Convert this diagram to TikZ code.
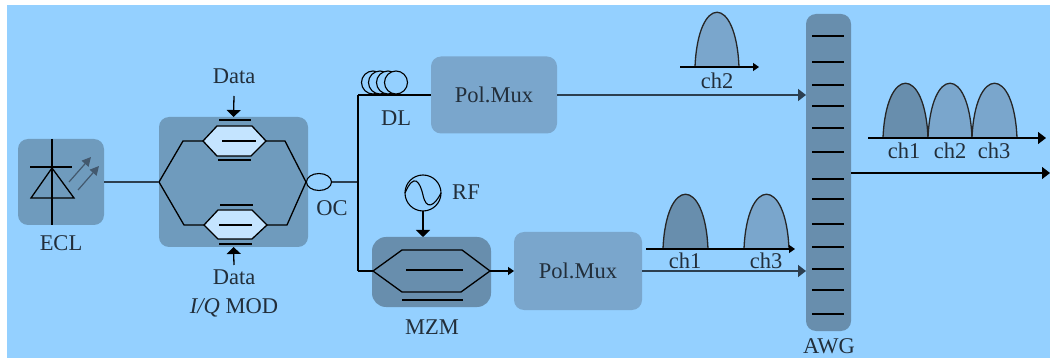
\documentclass[tikz,border=0pt]{standalone}
\usepackage{fontspec}
\setmainfont{Liberation Serif}
\usetikzlibrary{positioning}
\usetikzlibrary{arrows.meta}
\usetikzlibrary{shapes.geometric}
\definecolor{bgblue}{HTML}{94D0FF}
\definecolor{boxblue}{HTML}{6F9BBD}
\definecolor{darkblue}{HTML}{688EAD}
\definecolor{muxblue}{HTML}{7AA6CC}
\definecolor{hexblue}{HTML}{C4E4FF}
\definecolor{inkblue}{HTML}{222E3A}
\definecolor{wireblue}{HTML}{2C3F50}
\definecolor{rayblue}{HTML}{43596E}
\newcommand{\pulse}[4]{\draw[pulseline,fill=#4] (#1,#3) .. controls ({#1+3},{#3-73}) and ({#2-3},{#3-73}) .. (#2,#3);}

\begin{document}
\begin{tikzpicture}[x=1pt,y=-1pt,line width=1.3pt,font=\fontsize{22.5}{25}\selectfont,text=inkblue]
\tikzset{block/.style={rectangle,inner sep=0pt,outer sep=0pt,minimum width=#1,rounded corners=10pt}}
\tikzset{caption/.style={inner sep=0pt}}
\tikzset{wire/.style={draw=wireblue,line width=1.6pt}}
\tikzset{pulseline/.style={draw=black!85,line width=1.3pt}}
\tikzset{hex/.style={draw=black,line width=1.3pt,line join=miter}}
\tikzset{bar/.style={draw=black,line width=1.3pt}}
\tikzset{bigtip/.style={-{Triangle[length=8pt,width=12pt]}}}
\tikzset{widetip/.style={-{Triangle[length=7pt,width=14pt]}}}
\tikzset{axistip/.style={-{Triangle[length=6pt,width=8pt]}}}
\useasboundingbox (0,0) rectangle (1050,358);
\fill[bgblue] (7,5) rectangle (1050,358);
% blocks
\node[block=86pt,fill=boxblue,minimum height=86pt] (ecl) at (61,182) {};
\node[block=149pt,fill=boxblue,minimum height=130pt] (iq) at (233.5,182) {};
\node[block=119pt,fill=darkblue,minimum height=70pt,rounded corners=14pt] (mzm) at (431.5,272) {};
\node[block=126pt,fill=muxblue,minimum height=77pt] (mux1) at (494,95) {Pol.Mux};
\node[block=128pt,fill=muxblue,minimum height=78pt] (mux2) at (578,271) {Pol.Mux};
\node[block=45pt,fill=darkblue,minimum height=317pt] (awg) at (828.5,172.5) {};
% labels
\node[caption,below = 10pt of ecl] (ecltext) {ECL};
\node[caption] (data1) at (234,76) {Data};
\node[caption] (data2) at (234,277) {Data};
\node[caption] (iqtext) at (234,308) {\textit{I/Q} MOD};
\node[caption] (octext) at (332,208) {OC};
\node[caption] (dltext) at (396,118) {DL};
\node[caption] (rftext) at (466,192) {RF};
\node[caption] (mzmtext) at (432,327) {MZM};
\node[caption] (awgtext) at (829,346) {AWG};
% laser
\coordinate (apex) at (52,168);
\draw[bar] (apex) -- (31,198) -- (74,198) -- cycle;
\draw[bar] (30,167) -- (72,167);
\draw[bar] (ecl.north -| apex) -- (ecl.south -| apex);
\draw[-{Triangle[length=9pt,width=9pt]},draw=rayblue,fill=rayblue,line width=1.2pt] (69,182) -- (91,157);
\draw[-{Triangle[length=9pt,width=9pt]},draw=rayblue,fill=rayblue,line width=1.2pt] (78,190) -- (99,166);
% I/Q modulator
\coordinate (iqin) at (159,182);
\coordinate (iqout) at (306,182);
\coordinate (upl) at (203,141);
\coordinate (upr) at (266,141);
\coordinate (lol) at (204,225);
\coordinate (lor) at (267,225);
\draw[hex,fill=hexblue] (upl) -- (217,126) -- (252,126) -- (upr) -- (251,156) -- (217,156) -- cycle;
\draw[hex,fill=hexblue] (lol) -- (218,210) -- (252,210) -- (lor) -- (252,239) -- (218,239) -- cycle;
\draw[bar] (222,141) -- (256,141);
\draw[bar] (219,225) -- (252,225);
\draw[bar,line width=1.6pt] (219,120) -- (251,120);
\draw[bar] (218,160) -- (251,160);
\draw[bar] (220,205) -- (253,205);
\draw[bar,line width=1.6pt] (219,244) -- (252,244);
\draw[bar] (iqin) -- (183,141) -- (upl);
\draw[bar] (upr) -- (285,141) -- (iqout);
\draw[bar] (iqin) -- (184,225) -- (lol);
\draw[bar] (lor) -- (287,225) -- (iqout);
\coordinate (datain1) at (234,96);
\coordinate (datain2) at (234,265);
\draw[widetip,bar] (datain1) -- (iq.north);
\draw[widetip,bar] (datain2) -- (iq.south);
% coupler and delay line
\node[draw=black,fill=bgblue,ellipse,inner sep=0pt,outer sep=0pt,minimum width=25pt,minimum height=17pt,line width=1.1pt] (oc) at (319,182) {};
\coordinate (split) at (358,182);
\coordinate (upsplit) at (358,95);
\coordinate (losplit) at (358,271);
\foreach \xc in {373,380,388,396}
  \draw[draw=black,fill=bgblue,line width=1.1pt] (\xc,82.5) circle (11.5);
\draw[wire] (ecl) -- (iqin);
\draw[wire] (oc) -- (split);
\draw[bar] (upsplit) -- (losplit);
\draw[bar] (upsplit) -- (mux1);
% mach-zehnder
\coordinate (mzl) at (373,271);
\coordinate (mzr) at (490,271);
\draw[hex] (mzl) -- (402,250) -- (462,250) -- (mzr) -- (461,292) -- (402,292) -- cycle;
\draw[bar] (406,270) -- (463,270);
\draw[bar] (402,300) -- (463,300);
\draw[bar] (losplit) -- (mzl);
\draw[axistip,bar] (mzr) -- (mux2);
% rf source
\node[draw=black,circle,inner sep=0pt,outer sep=0pt,minimum size=36pt,line width=1.1pt] (rf) at (423,193) {};
\draw[black,line width=1.1pt] (rf.west) .. controls (414,172) and (420,182) .. (423,195) .. controls (426,210) and (434,207) .. (rf.east);
\draw[widetip,bar] (rf.south) -- (rf.south |- mzm.north);
% awg
\foreach \ya in {36,62,85,106,128,152,179,199,224,247,269,290,314}
  \draw[bar] (812,\ya) -- (844,\ya);
\coordinate (muxin1) at (awg.west |- mux1);
\coordinate (muxin2) at (awg.west |- mux2);
\coordinate (awgout) at (1050,173);
\draw[bigtip,wire] (mux1) -- (muxin1);
\draw[bigtip,wire] (mux2) -- (muxin2);
\draw[bigtip,bar] (awg.east |- awgout) -- (awgout);
% spectra
\pulse{695}{739}{67}{muxblue}
\pulse{663}{708}{249}{darkblue}
\pulse{744}{789}{249}{muxblue}
\pulse{883}{928}{138}{darkblue}
\pulse{928}{972}{138}{muxblue}
\pulse{972}{1017}{138}{muxblue}
\draw[axistip,bar] (680,67) -- (759,67);
\draw[axistip,bar] (646,249) -- (795,249);
\draw[bigtip,bar] (868,138) -- (1046,138);
\node[caption] (ch2a) at (717,81) {ch2};
\node[caption] (ch1b) at (685,261) {ch1};
\node[caption] (ch3b) at (766,261) {ch3};
\node[caption] (ch1c) at (904,151) {ch1};
\node[caption] (ch2c) at (950,151) {ch2};
\node[caption] (ch3c) at (994,151) {ch3};
\end{tikzpicture}
\end{document}
